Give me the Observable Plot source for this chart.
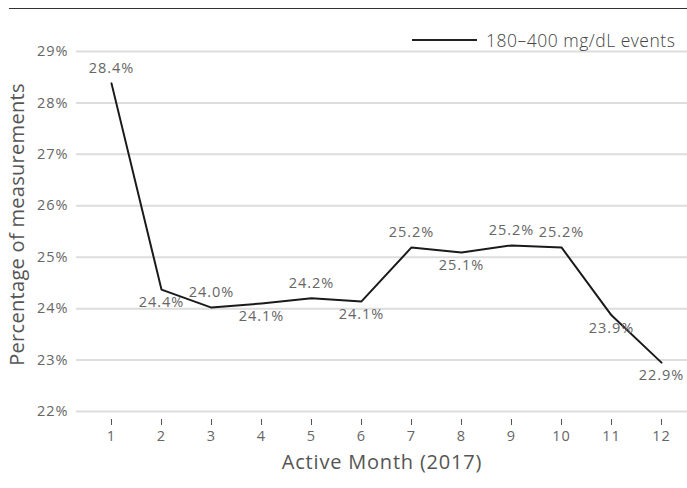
<!DOCTYPE html>
<html>
<head>
<meta charset="utf-8">
<script src="https://cdn.jsdelivr.net/npm/d3@7"></script>
<script src="https://cdn.jsdelivr.net/npm/@observablehq/plot@0.6"></script>
<style>
  html, body { margin: 0; padding: 0; background: #fff; }
  #wrap { position: relative; width: 687px; height: 488px; font-family: "Open Sans", Lato, sans-serif; }
  #rule { position: absolute; left: 9px; right: 0; top: 8px; height: 0; border-top: 1.5px solid #333; }
  #legend { position: absolute; left: 412px; top: 28px; display: flex; align-items: center; font-size: 17.5px; letter-spacing: 0.5px; font-weight: 300; color: #444; }
  #legend .sw { width: 65px; height: 0; border-top: 2px solid #222; margin-right: 9px; }
  svg { display: block; }
  .lbl text { letter-spacing: 1px; }
</style>
</head>
<body>
<div id="wrap">
  <div id="chart"></div>
  <div id="rule"></div>
  <div id="legend"><span class="sw"></span><span id="legendText"></span></div>
</div>
<script>
const months = [1, 2, 3, 4, 5, 6, 7, 8, 9, 10, 11, 12];
const values = [28.38, 24.37, 24.02, 24.10, 24.20, 24.14, 25.19, 25.09, 25.23, 25.19, 23.87, 22.95];
const labels = ["28.4%", "24.4%", "24.0%", "24.1%", "24.2%", "24.1%", "25.2%", "25.1%", "25.2%", "25.2%", "23.9%", "22.9%"];
const labelAbove = [true, false, true, false, true, false, true, false, true, true, false, false];
const yTicks = [22, 23, 24, 25, 26, 27, 28, 29];
const seriesName = "180–400 mg/dL events";
const xTitle = "Active Month (2017)";
const yTitle = "Percentage of measurements";

document.getElementById("legendText").textContent = seriesName;

const data = months.map((m, i) => ({month: m, value: values[i], label: labels[i], above: labelAbove[i]}));

const font = "'Open Sans', Lato, sans-serif";
const chart = Plot.plot({
  width: 687,
  height: 488,
  marginLeft: 76,
  marginRight: 0,
  marginTop: 51,
  marginBottom: 77,
  style: {fontFamily: font, fontSize: "13px", color: "#555", background: "#fff"},
  x: {domain: [0.3, 12.52]},
  y: {domain: [22, 29]},
  marks: [
    Plot.gridY(yTicks, {stroke: "#ddd", strokeOpacity: 1, strokeWidth: 2}),
    Plot.axisY(yTicks, {tickSize: 0, tickPadding: 8, tickFormat: d => d + "%", label: null, fill: "#666", fontSize: 14.5, className: "lbl"}),
    Plot.axisX(months, {tickSize: 6, dy: 8, tickPadding: 5, tickFormat: d => String(d), label: null, stroke: "#555", fill: "#666", fontSize: 14.5, className: "lbl"}),
    Plot.lineY(data, {x: "month", y: "value", stroke: "#1a1a1a", strokeWidth: 2}),
    Plot.text(data.filter(d => d.above), {x: "month", y: "value", text: "label", dy: -15, fill: "#666", fontSize: 14.5, className: "lbl"}),
    Plot.text(data.filter(d => !d.above), {x: "month", y: "value", text: "label", dy: 13, fill: "#666", fontSize: 14.5, className: "lbl"}),
    Plot.text([xTitle], {frameAnchor: "bottom", dy: 57, fill: "#555", fontSize: 20, className: "xt"}),
    Plot.text([yTitle], {frameAnchor: "left", textAnchor: "middle", rotate: -90, dx: -59, dy: -7, fill: "#555", fontSize: 20, className: "yt"})
  ]
});
const st = document.createElement("style");
st.textContent = ".xt text{letter-spacing:0.8px}.yt text{letter-spacing:0.3px}";
document.head.appendChild(st);
document.getElementById("chart").appendChild(chart);
</script>
</body>
</html>
